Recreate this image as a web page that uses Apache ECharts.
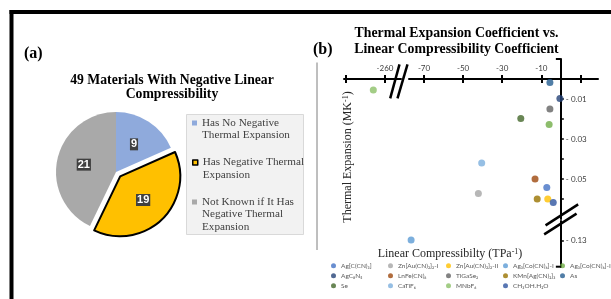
<!DOCTYPE html>
<html>
<head>
<meta charset="utf-8">
<script src="https://cdn.jsdelivr.net/npm/echarts@6/dist/echarts.min.js"></script>
<style>
  html, body { margin: 0; padding: 0; background: #fff; }
  #main { width: 611px; height: 299px; }
</style>
</head>
<body>
<div id="main"></div>
<script>
// (a) pie
const pieNames = ['Has No Negative\nThermal Expansion', 'Has Negative Thermal\nExpansion', 'Not Known if It Has\nNegative Thermal\nExpansion']
const pieValues = [9, 19, 21]
const pieColors = ['#8faadc', '#ffc000', '#a9a9a9']

// (b) scatter, one point per material
const materials = ['Ag[C(CN)₃]', 'Zn[Au(CN)₂]₂-I', 'Zn[Au(CN)₂]₂-II', 'Ag₃[Co(CN)₆]-I', 'Ag₃[Co(CN)₆]-II',
  'AgC₈N₅', 'LnFe(CN)₆', 'TlGaSe₂', 'KMn[Ag(CN)₂]₃', 'As',
  'Se', 'CaTiF₆', 'MNbF₆', 'CH₃OH.H₂O']
const compressibility = [-7.2, -42.2, -6.7, -76.6, -6.0, -0.5, -13.2, -5.6, -12.1, -5.6, -20.5, -40.5, -266, -3.9]
const thermalExpansion = [0.0543, 0.0572, 0.060, 0.1297, 0.0228, 0.0097, 0.050, 0.015, 0.060, 0.0018, 0.0198, 0.042, 0.0055, 0.0617]
const materialColors = ['#4472c4', '#a5a5a5', '#ffc000', '#5b9bd5', '#70ad47',
  '#264478', '#9e480e', '#636363', '#997300', '#255e91',
  '#43682b', '#7cafdd', '#8cc168', '#2f55a0']

const xTicks = [-280, -260, -70, -50, -30, -10, 10]
const xLabels = [-260, -70, -50, -30, -10]
const yTicks = [0.01, 0.02, 0.03, 0.04, 0.05, 0.06, 0.13]
const yLabels = [0.01, 0.03, 0.05, 0.13]

const serif = 'Liberation Serif'
const sans = 'Lato'

const chart = echarts.init(document.getElementById('main'))

function pieLegend(i, top) {
  const lines = pieNames[i].split('\n').length
  return {
    data: [pieNames[i]],
    left: 192,
    top: top,
    padding: 0,
    orient: 'vertical',
    icon: 'rect',
    itemWidth: 5,
    itemHeight: 5,
    selectedMode: false,
    itemStyle: i === 1 ? {borderColor: '#000', borderWidth: 1.5} : {borderWidth: 0},
    // blank lines in front keep the icon level with the first text line
    formatter: name => '\n'.repeat(lines - 1) + name,
    textStyle: {fontFamily: serif, fontSize: 11.2, lineHeight: 12.5, color: '#404040'}
  }
}

function scatterLegends() {
  const cols = [[0, 5, 10], [1, 6, 11], [2, 7, 12], [3, 8, 13], [4, 9]]
  const lefts = [331, 388, 446, 503, 560]
  return cols.map((c, k) => ({
    data: c.map(i => materials[i]),
    left: lefts[k],
    top: 260.7,
    padding: 0,
    orient: 'vertical',
    icon: 'circle',
    itemWidth: 5,
    itemHeight: 5,
    itemGap: 0,
    selectedMode: false,
    textStyle: {fontFamily: sans, fontSize: 6.5, lineHeight: 10, color: '#595959'}
  }))
}

const xBreaks = [{start: -252, end: -78, gap: 3.93}]

function xAxisDef(withLabels, offset) {
  return {
    type: 'value',
    position: 'top',
    offset: offset,
    min: -281,
    max: 19,
    breaks: xBreaks,
    breakArea: {show: false},
    axisLine: {show: withLabels, onZero: false, lineStyle: {color: '#000', width: 2}},
    axisTick: {inside: !withLabels, length: 4, customValues: xTicks, lineStyle: {color: '#000', width: 2}},
    axisLabel: {show: withLabels, customValues: xLabels, margin: 7, fontFamily: sans, fontSize: 8, color: '#404040'},
    splitLine: {show: false}
  }
}

function yAxisDef(offset) {
  return {
    type: 'value',
    inverse: true,
    position: 'right',
    offset: offset,
    min: -0.01,
    max: 0.143,
    breaks: [{start: 0.07, end: 0.12, gap: 0.00085}],
    breakArea: {show: false},
    axisLine: {onZero: false, lineStyle: {color: '#000', width: 2}},
    axisTick: {length: 3, customValues: yTicks, lineStyle: {color: '#000', width: 1.5}},
    axisLabel: {
      customValues: yLabels,
      margin: 5,
      fontFamily: sans,
      fontSize: 8,
      color: '#404040',
      formatter: v => '- ' + v.toFixed(2)
    },
    splitLine: {show: false}
  }
}

const option = {
  animation: false,
  grid: {left: 344, right: 13, top: 59, bottom: 32.3, outerBoundsMode: 'none'},
  legend: [pieLegend(0, 104.25), pieLegend(1, 143.75), pieLegend(2, 170.75)].concat(scatterLegends()),
  xAxis: [xAxisDef(true, 0), xAxisDef(false, 0)],
  yAxis: yAxisDef(0),
  series: [
    {
      name: 'NLC materials',
      type: 'pie',
      center: [116, 172],
      radius: 60,
      startAngle: 90,
      selectedMode: 'single',
      selectedOffset: 6,
      label: {
        position: 'inside',
        formatter: '{c}',
        color: '#fff',
        fontFamily: 'Liberation Sans',
        fontWeight: 'bold',
        fontSize: 11,
        backgroundColor: '#404040',
        padding: [1, 1, 0, 1]
      },
      labelLine: {show: false},
      emphasis: {disabled: true},
      data: pieValues.map((v, i) => ({
        value: v,
        name: pieNames[i],
        selected: i === 1,
        itemStyle: i === 1
          ? {color: pieColors[i], borderColor: '#000', borderWidth: 2}
          : {color: pieColors[i], borderWidth: 0}
      }))
    }
  ].concat(materials.map((m, i) => ({
    name: m,
    type: 'scatter',
    symbolSize: 7,
    itemStyle: {color: materialColors[i]},
    emphasis: {disabled: true},
    data: [[compressibility[i], thermalExpansion[i]]]
  })))
}
chart.setOption(option)

// move both axes onto the zero lines of each other
function placeAxes() {
  const xOff = chart.convertToPixel({yAxisIndex: 0}, 0) - chart.convertToPixel({yAxisIndex: 0}, -0.01)
  const yOff = chart.convertToPixel({xAxisIndex: 0}, 19) - chart.convertToPixel({xAxisIndex: 0}, 0)
  chart.setOption({xAxis: [xAxisDef(true, -xOff), xAxisDef(false, -xOff)], yAxis: yAxisDef(-yOff)})
}
placeAxes()

// frame, titles, axis names and the // break marks
function drawDecorations() {
  const xm260 = chart.convertToPixel({xAxisIndex: 0}, -260)
  const xm70 = chart.convertToPixel({xAxisIndex: 0}, -70)
  const x0 = chart.convertToPixel({xAxisIndex: 0}, 0)
  const y0 = chart.convertToPixel({yAxisIndex: 0}, 0)
  const y06 = chart.convertToPixel({yAxisIndex: 0}, 0.06)
  const y13 = chart.convertToPixel({yAxisIndex: 0}, 0.13)
  const yTop = chart.convertToPixel({yAxisIndex: 0}, -0.01)
  const yBot = chart.convertToPixel({yAxisIndex: 0}, 0.143)
  const cx = xm260 + 0.35 * (xm70 - xm260)
  const cy = y06 + 0.5 * (y13 - y06)
  const mark = {stroke: '#000', lineWidth: 2.5}
  const line = (id, x1, y1, x2, y2, style) => ({id, type: 'line', z: 10, shape: {x1, y1, x2, y2}, style})
  const text = (id, x, y, t, font, extra) => ({
    id, type: 'text', z: 10,
    style: Object.assign({x, y, text: t, font, fill: '#000', align: 'center', verticalAlign: 'top',
      textAlign: 'center', textVerticalAlign: 'top'}, extra || {})
  })
  const elements = [
    {id: 'frameTop', type: 'rect', shape: {x: 9.5, y: 10, width: 602, height: 4}, style: {fill: '#000'}},
    {id: 'frameLeft', type: 'rect', shape: {x: 9.5, y: 10, width: 4, height: 289}, style: {fill: '#000'}},
    line('divider', 317, 62.5, 317, 250, {stroke: '#7f7f7f', lineWidth: 1}),
    {id: 'legendBox', type: 'rect', z: -1, shape: {x: 186.5, y: 114.5, width: 117, height: 120},
      style: {fill: '#f2f2f2', stroke: '#d9d9d9', lineWidth: 1}},
    text('labelA', 24, 46, '(a)', 'bold 16px ' + serif, {align: 'left', textAlign: 'left'}),
    text('labelB', 313, 41.5, '(b)', 'bold 16px ' + serif, {align: 'left', textAlign: 'left'}),
    text('titleA', 172, 73, '49 Materials With Negative Linear\nCompressibility', 'bold 13.7px ' + serif, {lineHeight: 14.5}),
    text('titleB', 456.5, 25.7, 'Thermal Expansion Coefficient vs.\nLinear Compressibility Coefficient', 'bold 13.8px ' + serif, {lineHeight: 15.7}),
    text('xName', 450, 247.5, 'Linear Compressibilty (TPa{sup|-1})', '12px ' + serif, {
      fill: '#262626',
      rich: {sup: {fontFamily: serif, fontSize: 8, verticalAlign: 'top', fill: '#262626'}}
    }),
    {
      id: 'yName', type: 'text', z: 10, x: 348, y: 157, rotation: Math.PI / 2,
      style: {x: 0, y: 0, text: 'Thermal Expansion (MK{sup|-1})', font: '12px ' + serif, fill: '#262626',
        align: 'center', verticalAlign: 'middle', textAlign: 'center', textVerticalAlign: 'middle',
        rich: {sup: {fontFamily: serif, fontSize: 8, verticalAlign: 'top', fill: '#262626'}}}
    },
    line('xBreak1', cx - 8.5, y0 + 19.3, cx + 0.8, y0 - 14.7, mark),
    line('xBreak2', cx - 1.2, y0 + 19.3, cx + 8.8, y0 - 14.7, mark),
    line('yBreak1', x0 - 15.3, cy + 5.5, x0 + 17.3, cy - 15.5, mark),
    line('yBreak2', x0 - 16.7, cy + 14.5, x0 + 15.7, cy - 6.2, mark),
    line('hookTop', x0 - 5, yTop, x0, yTop, {stroke: '#000', lineWidth: 2}),
    line('hookBot', x0 - 5, yBot, x0, yBot, {stroke: '#000', lineWidth: 2})
  ]
  chart.setOption({graphic: {elements}})
}
drawDecorations()
</script>
</body>
</html>
